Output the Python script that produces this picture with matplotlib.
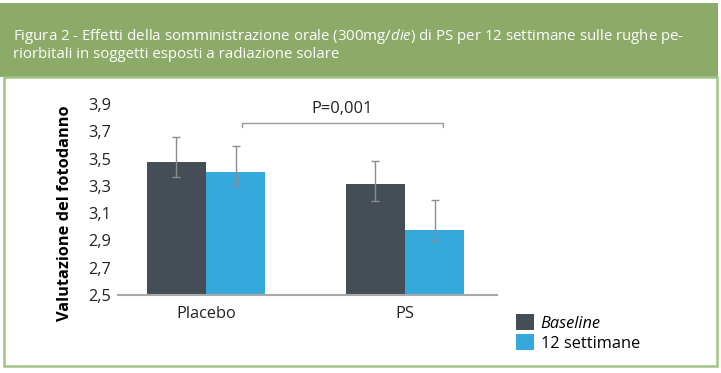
import numpy as np
import matplotlib.pyplot as plt
from matplotlib.patches import Rectangle

plt.rcParams['font.family'] = ['Open Sans', 'DejaVu Sans']
plt.rcParams['mathtext.fontset'] = 'custom'
plt.rcParams['mathtext.rm'] = 'Open Sans'
plt.rcParams['mathtext.it'] = 'Open Sans:italic'

# dati
groups = ['Placebo', 'PS']
series = ['Baseline', '12 settimane']
baseline = [3.475, 3.31]
baseline_err_lo = [0.11, 0.12]
baseline_err_hi = [0.185, 0.17]
week12 = [3.40, 2.98]
week12_err_lo = [0.10, 0.08]
week12_err_hi = [0.19, 0.22]
yticks = [2.5, 2.7, 2.9, 3.1, 3.3, 3.5, 3.7, 3.9]
p_text = 'P=0,001'

dark = '#454E57'
blue = '#35A8DC'
err_col = '#8C8C8C'
fs = 11.8

fig = plt.figure(figsize=(7.21, 3.73), dpi=100)
W, H = 721, 373

# fascia verde del titolo + bordo
fig.patches.append(Rectangle((0, 1 - 77 / H), 718 / W, 74 / H, transform=fig.transFigure,
                             facecolor='#8CAA68', edgecolor='none', zorder=0))
fig.patches.append(Rectangle((4 / W, 1 - 366 / H), 713 / W, 289 / H, transform=fig.transFigure,
                             facecolor='none', edgecolor='#A2C485', lw=1.8, zorder=0))
fig.text(13 / W, 1 - 37 / H,
         'Figura 2 - Effetti della somministrazione orale (300mg/$\\it{die}$) di PS per 12 settimane sulle rughe pe-',
         color='white', fontsize=10.85, va='center')
fig.text(13 / W, 1 - 55 / H, 'riorbitali in soggetti esposti a radiazione solare',
         color='white', fontsize=10.85, va='center')

ax = fig.add_axes([118 / W, 1 - 295 / H, 379 / W, 191 / H])
x = np.arange(len(groups))
w = 0.297
ekw = dict(ecolor=err_col, elinewidth=1, capsize=3, capthick=1)
b1 = ax.bar(x - w / 2, baseline, w, color=dark, label=series[0],
            yerr=[baseline_err_lo, baseline_err_hi], error_kw=ekw)
b2 = ax.bar(x + w / 2, week12, w, color=blue, label=series[1],
            yerr=[week12_err_lo, week12_err_hi], error_kw=ekw)

ax.set_ylim(2.5, 3.9)
ax.set_xlim(-0.442, 1.462)
ax.set_yticks(yticks)
ax.set_yticklabels([f'{v:.1f}'.replace('.', ',') for v in yticks])
ax.set_xticks(x)
ax.set_xticklabels(groups)
ax.tick_params(axis='both', length=0, labelsize=fs, colors='#222222')
ax.tick_params(axis='x', pad=8)
ax.tick_params(axis='y', pad=5)
for s in ['top', 'right', 'left']:
    ax.spines[s].set_visible(False)
ax.spines['bottom'].set_color('#A8A8A8')
ax.spines['bottom'].set_linewidth(1.5)

ax.set_ylabel('Valutazione del fotodanno', fontsize=fs, fontweight='bold')
ax.yaxis.set_label_coords(-0.119, 0.427)

# parentesi significatività
bx0, bx1, by = 0.181, 1.191, 3.76
ax.plot([bx0, bx0, bx1, bx1], [by - 0.025, by, by, by - 0.025], color='#999999', lw=1, clip_on=False)
ax.text((bx0 + bx1) / 2, 3.86, p_text, ha='center', va='center', fontsize=fs, color='#222222')

leg = ax.legend(handles=[b1, b2], loc='upper left', bbox_to_anchor=(508 / W, 1 - 306 / H),
                bbox_transform=fig.transFigure, frameon=False, fontsize=fs,
                handlelength=1.1, handleheight=1.1, handletextpad=0.4, labelspacing=0.15,
                borderpad=0)
leg.get_texts()[0].set_style('italic')

fig.savefig('out.png', dpi=100)
